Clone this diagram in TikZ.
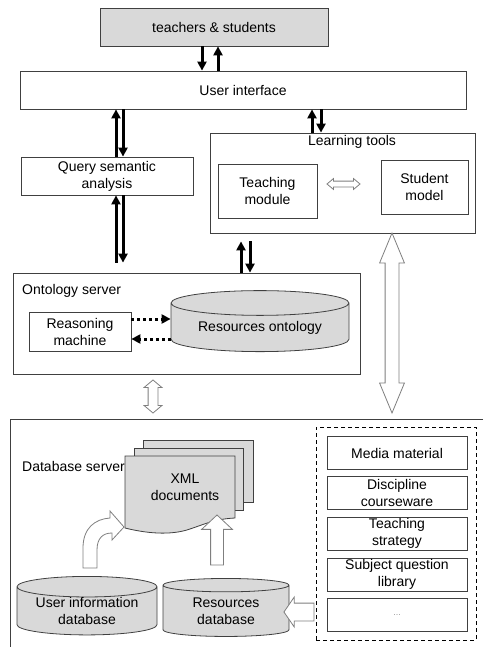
\documentclass[tikz,border=0pt]{standalone}
\usepackage{fontspec}
\setmainfont{Liberation Sans}
\usetikzlibrary{positioning,arrows.meta,shapes.geometric,shapes.arrows}
\definecolor{boxgray}{HTML}{D9D9D9}
\definecolor{edgegray}{HTML}{404040}
\definecolor{hollowgray}{HTML}{7F7F7F}

\begin{document}
\begin{tikzpicture}[x=1pt, y=-1pt,
    every node/.style={font=\fontsize{14}{17}\selectfont},
    plainBox/.style={rectangle, draw=edgegray, fill=white, line width=0.8pt, align=center, inner sep=0pt},
    grayBox/.style={plainBox, fill=boxgray},
    itemBox/.style={plainBox, minimum width=140pt, minimum height=33pt},
    dbCyl/.style={cylinder, shape border rotate=90, aspect=0.2, draw=edgegray, fill=boxgray, line width=0.8pt, align=center, inner sep=0pt},
    labelText/.style={inner sep=0pt, anchor=west},
    linkArrow/.style={-{Triangle[width=9pt,length=9pt]}, line width=3pt, draw=black},
    dotArrow/.style={linkArrow, dash pattern=on 3pt off 3pt},
    hollowDouble/.style={double arrow, draw=hollowgray, fill=white, line width=0.8pt, inner xsep=0pt},
    hollowSingle/.style={single arrow, draw=hollowgray, fill=white, line width=0.8pt, inner xsep=0pt}
]
    \useasboundingbox (0,0) rectangle (483,647);

    % top part
    \node[grayBox, minimum width=228pt, minimum height=38pt] (ts) at (214,27) {teachers \& students};
    \node[plainBox, minimum width=446pt, minimum height=38pt] (ui) at (243,90) {User interface};
    \node[plainBox, minimum width=172pt, minimum height=38pt] (query) at (107,176) {Query semantic\\analysis};

    \node[plainBox, minimum width=265pt, minimum height=100pt] (lt) at (342.5,183) {};
    \node[inner sep=0pt] (ltLabel) at (352,142) {Learning tools};
    \node[plainBox, minimum width=99pt, minimum height=54pt] (teach) at (267.5,191) {Teaching\\module};
    \node[plainBox, minimum width=87pt, minimum height=54pt] (student) at (424.5,187) {Student\\model};
    \node[hollowDouble, minimum height=33pt, inner ysep=2.5pt, double arrow head extend=2.5pt, double arrow tip angle=80] (modArrow) at (343.5,184) {};

    % ontology server
    \node[plainBox, minimum width=347pt, minimum height=101pt] (onto) at (186.5,323.5) {};
    \node[labelText] (ontoLabel) at (22,291) {Ontology server};
    \node[plainBox, minimum width=102pt, minimum height=39pt] (reason) at (80,331.5) {Reasoning\\machine};
    \node[dbCyl, minimum width=178pt, minimum height=61pt] (resOnto) at (260,327.5) {Resources ontology};

    \draw[linkArrow] ([xshift=-12pt]ts.south) -- ([xshift=-12pt]ts.south |- ui.north);
    \draw[linkArrow] ([xshift=4pt]ts.south |- ui.north) -- ([xshift=4pt]ts.south);
    \draw[linkArrow] ([xshift=9pt]query.north) -- ([xshift=9pt]query.north |- ui.south);
    \draw[linkArrow] ([xshift=16pt]query.north |- ui.south) -- ([xshift=16pt]query.north);
    \draw[linkArrow] ([xshift=-30.5pt]lt.north) -- ([xshift=-30.5pt]lt.north |- ui.south);
    \draw[linkArrow] ([xshift=-21.5pt]lt.north |- ui.south) -- ([xshift=-21.5pt]lt.north);
    \draw[linkArrow, shorten <=10pt] ([xshift=9pt]query.south |- onto.north) -- ([xshift=9pt]query.south);
    \draw[linkArrow, shorten >=10pt] ([xshift=16pt]query.south) -- ([xshift=16pt]query.south |- onto.north);
    \draw[linkArrow, shorten >=8pt] ([xshift=54.5pt]onto.north) -- ([xshift=54.5pt]onto.north |- lt.south);
    \draw[linkArrow, shorten <=8pt] ([xshift=63.5pt]onto.north |- lt.south) -- ([xshift=63.5pt]onto.north);
    \draw[dotArrow] ([yshift=12.5pt]reason.east) -- ([yshift=12.5pt]reason.east -| resOnto.west);
    \draw[dotArrow] ([yshift=-7.5pt]reason.east -| resOnto.west) -- ([yshift=-7.5pt]reason.east);

    \node[hollowDouble, rotate=90, minimum height=180pt, inner ysep=6.5pt, double arrow head extend=5.5pt, double arrow tip angle=45] (bigArrow) at (392,323) {};
    \node[hollowDouble, rotate=90, minimum height=33pt, inner ysep=4.5pt, double arrow head extend=4pt, double arrow tip angle=100] (smallArrow) at (153,396.5) {};

    % database server
    \draw[draw=edgegray, line width=0.8pt] (483,419) -- (10,419) -- (10,647);
    \node[labelText] (dbLabel) at (22,466) {Database server};

    \filldraw[draw=edgegray, fill=boxgray, line width=0.8pt] (143,440) rectangle (253,502);
    \filldraw[draw=edgegray, fill=boxgray, line width=0.8pt] (134,448) rectangle (243,510);
    \filldraw[draw=edgegray, fill=boxgray, line width=0.8pt] (125,456) -- (235,456) -- (235,518)
        .. controls (215,519) and (205,524) .. (190,529)
        .. controls (170,536) and (145,533) .. (125,528) -- cycle;
    \node[inner sep=0pt, align=center] (xml) at (185,487) {XML\\documents};

    \node[dbCyl, minimum width=140pt, minimum height=58pt] (userDb) at (87,611) {User information\\database};
    \node[dbCyl, minimum width=126pt, minimum height=58pt] (resDb) at (226,611) {Resources\\database};

    \filldraw[draw=hollowgray, fill=white, line width=0.8pt] (83,568) -- (83,548)
        .. controls (83,528) and (95,519) .. (110,518) -- (110,511) -- (124,527) -- (112,540) -- (112,533)
        .. controls (103,533) and (97,538) .. (97,550) -- (97,568) -- cycle;
    \node[hollowSingle, rotate=90, minimum height=50pt, inner ysep=6pt, single arrow head extend=9pt, single arrow tip angle=94] (upArrow) at (217,543) {};

    \node[draw=black, dash pattern=on 4pt off 3pt, line width=1pt, minimum width=160pt, minimum height=213pt, inner sep=0pt] (libs) at (396,533.5) {};
    \node[itemBox] (media) at (397,453) {Media material};
    \node[itemBox] (course) at (397,493) {Discipline\\courseware};
    \node[itemBox] (strategy) at (397,533.5) {Teaching\\strategy};
    \node[itemBox] (question) at (397,574.5) {Subject question\\library};
    \node[itemBox] (more) at (397,615) {\textcolor{black!40}{\fontsize{9}{10}\selectfont ...}};

    \node[hollowSingle, rotate=180, minimum height=30pt, inner ysep=8.5pt, single arrow head extend=6pt, single arrow tip angle=111] (leftArrow) at (302,612) {};
\end{tikzpicture}
\end{document}
